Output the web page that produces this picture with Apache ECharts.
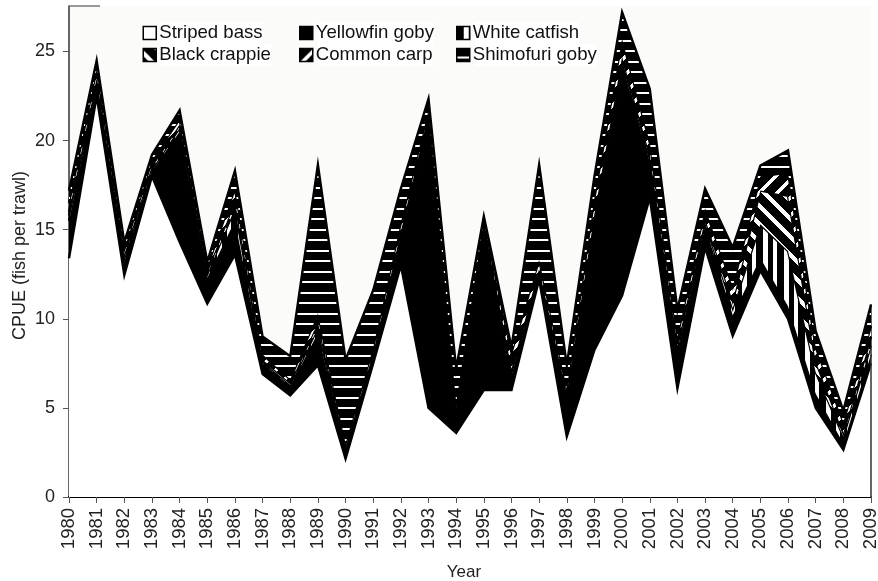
<!DOCTYPE html>
<html><head><meta charset="utf-8">
<style>html,body{margin:0;padding:0;background:#fff}#c{width:878px;height:581px}</style>
<script src="https://cdn.jsdelivr.net/npm/echarts@6/dist/echarts.min.js"></script>
</head><body><div id="c"></div>
<script>
const years = ['1980','1981','1982','1983','1984','1985','1986','1987','1988','1989','1990','1991','1992','1993','1994','1995','1996','1997','1998','1999','2000','2001','2002','2003','2004','2005','2006','2007','2008','2009'];
const stripedBass   = [13.4,22.5,12.45,18,14.3,10.85,13.6,6.9,5.7,7.4,2.15,7.5,13,5,3.6,6,6,12.2,3.4,8.25,11.3,16.8,6.1,14,9.05,12.7,10,5,2.65,7.5];
const yellowfinGoby = [2.1,0.6,0.75,0.3,6.2,1.45,1.9,0.6,0.5,1.8,0.45,0.4,1.5,16.3,1,9.2,0.8,0.4,2.2,7.25,13,2,1.9,1.2,1.15,0.7,0.7,0.8,0.35,0.5];
const whiteCatfish  = [0.3,0.2,0.2,0.1,0.2,0.2,0.7,0.1,0.1,0.3,0.1,0.1,0.2,0.1,0.2,0.1,0.2,0.1,0.1,0.2,0.2,0.2,0.2,0.2,0.4,1.9,3.1,1.2,0.4,0.5];
const blackCrappie  = [0.2,0.2,0.2,0.2,0.2,0.2,0.4,0.1,0.1,0.3,0.1,0.1,0.2,0.1,0.2,0.1,0.2,0.1,0.1,0.2,0.2,0.2,0.3,0.2,0.4,1.9,3.1,0.6,0.2,0.5];
const commonCarp    = [0.5,0.5,0.3,0.3,0.3,0.2,0.7,0.3,0.2,0.5,0.2,0.3,0.5,0.2,0.3,0.1,0.9,0.5,0.3,0.9,1,0.7,0.5,0.6,0.8,0.8,1.3,0.8,0.6,0.6];
const shimofuriGoby = [0.7,0.5,0.4,0.3,0.5,0.3,1,1,1.3,8.35,4.7,3.2,1.9,0.65,1.9,0.25,0.3,5.35,1.3,1.2,1.5,3,1.5,1.1,2.2,0.6,1.25,0.9,0.65,1.2];
const yTicks = [0,5,10,15,20,25];
const yMax = 27.55;

function tile(size, isWhite){
  const c = document.createElement('canvas'); c.width = c.height = size;
  const g = c.getContext('2d');
  g.fillStyle = '#000'; g.fillRect(0,0,size,size);
  g.fillStyle = '#fff';
  for(let x=0;x<size;x++) for(let y=0;y<size;y++) if(isWhite(x,y)) g.fillRect(x,y,1,1);
  return {image:c, repeat:'repeat'};
}
const patH = tile(21,(x,y)=> y===8||y===9||y===19||y===20);
const patV = tile(21,(x,y)=> (x>=7&&x<=11)||(x>=17&&x<=20));
const patB = tile(18,(x,y)=> { const m=((x-y)%18+18)%18; return m>=11&&m<=16; });
const patF = tile(18,(x,y)=> { const m=(x+y)%18; return m>=13&&m<=17; });

const fills = ['#fff','#000',patV,patB,patF,patH];
const names = ['Striped bass','Yellowfin goby','White catfish','Black crappie','Common carp','Shimofuri goby'];
const values = [stripedBass,yellowfinGoby,whiteCatfish,blackCrappie,commonCarp,shimofuriGoby];
const topLast = values.reduce((a,v)=>a+v[v.length-1],0);

const series = names.map((n,i)=>({
  name:n, type:'line', stack:'all', data:values[i], symbol:'none', showSymbol:false,
  lineStyle:{color:'#000',width:2.4,join:'miter',miterLimit:20}, itemStyle:{color:fills[i],borderColor:'#000',borderWidth:1.5},
  areaStyle:{color:fills[i],opacity:1}, silent:true, z:2+i
}));
series[5].markLine = {silent:true,symbol:'none',animation:false,label:{show:false},
  lineStyle:{color:'#333',width:1.5,type:'solid'},
  data:[[{coord:['2009',0]},{coord:['2009',topLast]}]]};

function leg(left,items){
  return {left,top:22,orient:'vertical',itemWidth:13,itemHeight:13,itemGap:0,icon:'rect',padding:0,z:20,
    data:items.map(n=>({name:n,icon:'rect',itemStyle:{color:fills[names.indexOf(n)],borderColor:'#000',borderWidth:1.5,opacity:1}})),
    textStyle:{fontFamily:'Liberation Sans',fontSize:18.6,color:'#111',backgroundColor:'#fff',padding:[1,0,1,-2],lineHeight:20},selectedMode:false,inactiveColor:'#000'};
}
const chart = echarts.init(document.getElementById('c'),null,{renderer:'canvas'});
chart.setOption({
  animation:false, backgroundColor:'#fff',
  grid:{left:69,right:7,top:6,bottom:84,outerBoundsMode:'none',show:true,backgroundColor:'#fbfbf9',borderWidth:0},
  legend:[leg(142.5,['Striped bass','Black crappie']),leg(299,['Yellowfin goby','Common carp']),leg(456,['White catfish','Shimofuri goby'])],
  xAxis:{type:'category',data:years,boundaryGap:false,
    axisLine:{show:true,onZero:false,lineStyle:{color:'#000',width:2}},
    axisTick:{show:true,alignWithLabel:true,interval:0,length:6,lineStyle:{color:'#555',width:1}},
    axisLabel:{interval:0,rotate:90,margin:11,fontFamily:'Liberation Sans',fontSize:18.5,color:'#222'},
    name:'Year',nameLocation:'middle',nameGap:67,nameTextStyle:{fontFamily:'Liberation Sans',fontSize:17,color:'#222',padding:[0,12,0,0]}},
  yAxis:{type:'value',min:0,max:yMax,
    axisLine:{show:true,lineStyle:{color:'#333',width:1.5}},
    axisTick:{show:true,length:6,customValues:yTicks,lineStyle:{color:'#555',width:1}},
    axisLabel:{customValues:yTicks,margin:14,fontFamily:'Liberation Sans',fontSize:18,color:'#222'},
    splitLine:{show:false},
    name:'CPUE (fish per trawl)',nameLocation:'middle',nameGap:40,nameRotate:90,nameMoveOverlap:false,nameTextStyle:{fontFamily:'Liberation Sans',fontSize:18,color:'#222',padding:[0,8,0,0]}},
  graphic:[{type:'line',shape:{x1:69,y1:6,x2:100,y2:6},style:{stroke:'#777',lineWidth:1.5},z:10}],
  series
});
</script></body></html>
